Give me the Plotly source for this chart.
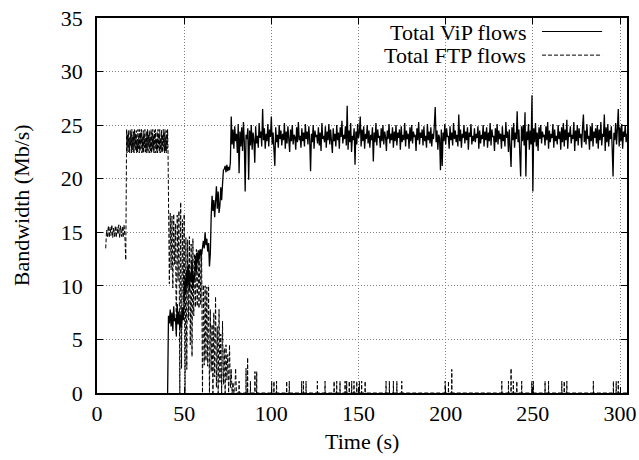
import numpy as np
import plotly.graph_objects as go

# ---------------- data ----------------
STEP = 0.5        # sampling step of the hand-read series (s)
STEP_FINE = 0.25  # finer sampling for the saturated FTP plateau

# Total ViP flows: starts at t = 40.5 s
vip_start = 40.5
vip_ramp_a = [0, 7.2, 6.5, 7.8, 6.2, 7.5, 5.8, 8.1, 6.7, 7.0, 5.5, 8.3, 6.4, 7.6, 5.9, 7.3, 6.1, 8.0, 6.8, 9.5]
vip_ramp_b = [10.8, 9.2, 11.5, 10.1, 12.0, 9.6, 11.2, 10.4, 12.4, 9.8, 11.0, 10.6, 12.8, 11.3, 13.1, 12.2, 13.3, 12.6, 13.4, 12.9, 13.8]
vip_ramp_c = [14.2, 13.5, 15.0, 13.8, 14.4, 13.2, 14.0, 11.8, 13.0]
vip_ramp_d = [16.5, 18.4, 17.0, 18.0, 16.4, 17.6, 19.3, 17.2, 18.8, 16.8, 17.5, 19.2, 18.0, 19.5, 20.8]
vip_ramp_e = [20.9, 21.2, 20.6, 21.3, 20.7, 21.1, 20.8, 21.5]
vip_steady = [
    25.8, 23.2, 24.6, 22.8, 24.9, 23.5, 24.2, 22.4, 25.1, 20.5, 24.4, 23.0, 24.8, 22.6, 25.3, 23.4, 18.8, 24.1, 23.7, 24.7,
    19.9, 24.5, 23.1, 25.0, 22.7, 24.3, 23.6, 21.5, 24.9, 23.3, 24.0, 22.9, 25.2, 23.8, 24.4, 23.0, 26.5, 23.6, 24.7, 22.8,
    24.2, 23.5, 25.1, 23.0, 24.6, 23.9, 25.8, 23.2, 24.3, 22.6, 21.2, 24.8, 23.4, 24.1, 22.9, 25.0, 23.7, 24.5, 23.1, 24.2,
    23.6, 25.2, 22.8, 24.4, 23.3, 24.9, 23.8, 22.5, 24.6, 23.5, 25.0, 23.2, 24.1, 23.9, 22.7, 24.8, 23.4, 25.3, 23.6, 24.0,
    22.9, 24.7, 23.5, 24.3, 23.0, 25.1, 23.7, 24.4, 23.2, 24.9, 23.6, 20.7, 24.2, 23.4, 25.0, 22.8, 24.5, 23.9, 24.1, 23.3,
    24.8, 23.1, 24.3, 22.6, 25.2, 23.7, 24.0, 23.4, 24.9, 22.9, 24.4, 23.6, 25.1, 23.2, 24.6, 23.8, 22.4, 24.7, 23.5, 24.2,
    23.0, 25.0, 23.6, 24.3, 22.8, 24.8, 23.9, 25.4, 23.3, 24.1, 23.7, 24.9, 23.1, 26.8, 22.7, 24.5, 23.4, 25.2, 22.5, 24.0,
    23.6, 24.7, 21.3, 24.4, 23.2, 25.1, 23.8, 24.3, 25.8, 23.0, 24.6, 23.5, 24.9, 22.8, 24.2, 23.7, 25.0, 23.3, 24.5, 22.9,
    24.1, 23.6, 24.8, 21.6, 24.3, 23.4, 25.2, 23.1, 24.6, 23.8, 24.0, 22.9, 24.7, 23.5, 25.0, 23.2, 24.4, 23.9, 22.6, 24.5,
    23.7, 25.1, 23.3, 24.2, 23.6, 24.8, 22.9, 24.4, 23.5, 25.0, 23.1, 24.3, 23.8, 24.6, 22.7, 24.9, 23.4, 24.1, 23.6, 25.2,
    23.0, 24.5, 23.7, 24.2, 22.8, 24.8, 23.5, 25.0, 23.3, 24.4, 23.9, 24.1, 22.6, 24.7, 23.6, 25.3, 23.2, 24.3, 23.8, 24.6,
    23.1, 24.9, 23.5, 24.0, 22.9, 25.1, 23.6, 24.4, 23.3, 24.8, 23.0, 24.2, 23.7, 25.0, 26.7, 23.4, 24.5, 22.7, 24.1, 23.8,
    20.8, 24.6, 21.2, 24.3, 23.5, 25.1, 23.2, 24.7, 23.9, 24.0, 22.8, 24.9, 23.6, 24.3, 23.1, 25.2, 23.7, 24.5, 23.4, 24.1,
    23.0, 26.0, 23.5, 24.6, 22.9, 24.2, 23.8, 25.0, 23.3, 24.4, 23.6, 24.8, 22.7, 24.3, 23.9, 25.1, 23.2, 24.0, 23.5, 24.7,
    23.4, 24.2, 23.8, 24.9, 22.8, 24.5, 23.3, 24.1, 23.7, 25.0, 23.0, 24.4, 23.6, 24.8, 22.9, 24.3, 23.5, 25.2, 23.1, 24.6,
    23.9, 24.0, 22.6, 24.7, 23.4, 25.1, 23.2, 24.5, 23.7, 24.2, 22.8, 24.9, 23.5, 24.1, 23.0, 25.3, 23.8, 24.4, 22.5, 24.6,
    23.3, 21.1, 24.8, 23.6, 25.2, 22.9, 24.3, 23.7, 26.3, 23.4, 24.6, 22.2, 20.2, 24.9, 23.5, 25.0, 23.1, 26.2, 20.2, 24.4,
    23.6, 25.1, 22.7, 24.5, 23.2, 27.8, 18.8, 24.7, 23.4, 25.2, 23.0, 24.3, 22.6, 24.8, 23.7, 25.0, 23.3, 24.4, 23.9, 24.1,
    23.1, 24.9, 23.6, 25.3, 22.8, 24.5, 23.4, 24.2, 23.8, 25.1, 22.9, 24.6, 23.5, 24.0, 23.2, 25.0, 23.7, 24.4, 22.7, 24.8,
    23.4, 25.2, 23.0, 24.6, 23.6, 25.5, 22.8, 24.3, 23.9, 24.9, 23.3, 24.1, 23.7, 25.3, 22.6, 24.5, 23.5, 25.0, 23.1, 24.7,
    23.8, 24.2, 22.9, 24.8, 26.0, 23.4, 24.5, 23.2, 25.1, 23.7, 24.0, 22.7, 24.9, 23.5, 25.2, 23.0, 24.4, 23.8, 24.7, 23.3,
    25.0, 22.8, 24.6, 23.6, 25.3, 23.1, 24.2, 23.9, 26.0, 22.6, 24.8, 23.4, 25.1, 23.0, 24.5, 23.7, 24.9, 22.9, 20.2, 24.3,
    23.6, 25.2, 23.2, 24.7, 26.5, 23.0, 24.8, 23.5, 25.1, 22.8, 24.4, 23.9, 25.0, 23.4, 24.2,
]

# Total FTP flows
ftp_start = 5.0
ftp_phase1 = [13.5, 15.2, 14.6, 15.6, 14.5, 15.5, 14.7, 15.7, 14.5, 15.4, 14.6, 15.6,
              14.5, 15.5, 14.8, 15.7, 14.5, 15.6, 14.6, 15.5, 14.5, 15.7, 14.6, 12.4]
# plateau from t = 17 s to 40.75 s (sampled every 0.25 s)
plateau_start = 17.0
ftp_plateau = [24.6, 22.4, 24.1, 22.9, 24.5, 22.5, 23.8, 22.4, 24.6, 23.1, 24.3, 22.4,
               24.6, 22.7, 23.9, 22.5, 24.4, 22.4, 24.6, 23.0, 24.2, 22.6, 24.5, 22.4,
               23.7, 22.5, 24.6, 22.8, 24.0, 22.4, 24.6, 22.6, 24.3, 23.2, 24.6, 22.4,
               23.9, 22.5, 24.5, 22.4, 24.2, 22.9, 24.6, 22.5, 23.8, 22.4, 24.4, 22.7,
               24.6, 22.4, 24.1, 23.0, 24.5, 22.4, 23.9, 22.6, 24.6, 22.4, 24.3, 22.8,
               24.6, 22.5, 24.0, 22.4, 24.5, 23.1, 24.6, 22.4, 23.7, 22.6, 24.4, 22.4,
               24.6, 22.9, 24.2, 22.5, 24.6, 22.4, 23.8, 22.7, 24.5, 22.4, 24.1, 22.5,
               24.6, 23.0, 24.3, 22.4, 24.6, 22.6, 23.9, 22.4, 24.5, 22.8, 24.6, 22.4]
decline_start = 41.0
ftp_decline = [19.0, 10.2, 16.8, 11.5, 16.5, 9.8, 16.7, 12.0, 15.8, 5.2, 16.6, 10.5, 17.0, 0.0,
               17.8, 2.3, 16.2, 8.5, 16.7, 0.0, 14.5, 2.2, 14.3, 6.8, 14.6, 4.5, 13.9, 3.4,
               14.4, 7.2, 13.0, 8.0, 13.4, 8.1, 13.3, 7.9, 13.4, 8.2, 13.3, 0.0, 10.1, 2.6,
               10.0, 3.0, 9.9, 2.5, 10.0, 0.0, 7.8, 2.0, 6.4, 0.0, 7.5, 1.5, 9.0, 0.5,
               6.2, 0.0, 7.8, 1.0, 5.5, 0.0, 6.7, 0.8, 4.2, 0.0, 4.5, 1.2, 3.6, 0.0,
               4.5, 0.5, 2.2, 0.0, 1.0, 0.0, 0.0, 2.3, 0.0]
# sparse FTP bursts after t = 80 s (time, height); the flow is 0 otherwise
ftp_burst_t = [81.5, 85.5, 86.4, 88.0, 90.6, 91.6, 100.2, 101.5, 103.0, 108.8, 110.3, 117.4,
               118.4, 119.9, 126.4, 130.8, 136.0, 137.5, 139.4, 142.3, 143.2, 144.7, 146.1,
               147.4, 149.0, 150.5, 151.8, 153.8, 165.8, 167.7, 170.0, 172.0, 174.8, 199.7,
               201.6, 203.5, 232.2, 236.0, 237.5, 238.8, 240.8, 243.6, 249.4, 250.3, 257.0,
               259.0, 266.6, 268.0, 269.5, 284.7, 296.2, 297.8, 299.0]
ftp_burst_v = [1.1, 2.3, 3.3, 1.1, 2.0, 2.0, 1.1, 1.1, 1.1, 1.1, 1.1, 1.1,
               1.1, 1.1, 1.1, 1.1, 1.1, 1.1, 1.1, 1.1, 1.1, 1.1, 1.1,
               1.1, 1.1, 1.1, 1.1, 1.1, 1.1, 1.1, 1.1, 1.1, 1.1, 1.1,
               1.1, 2.2, 1.1, 1.1, 2.3, 1.1, 1.1, 1.1, 1.1, 1.1, 1.1,
               1.1, 1.1, 1.1, 1.1, 1.1, 1.1, 1.1, 1.1]
ftp_end = 304.0

x_ticks = [0, 50, 100, 150, 200, 250, 300]
y_ticks = [0, 5, 10, 15, 20, 25, 30, 35]

# ---------------- build series ----------------
vip_v = vip_ramp_a + vip_ramp_b + vip_ramp_c + vip_ramp_d + vip_ramp_e + vip_steady
vip_t = vip_start + STEP * np.arange(len(vip_v))

ftp_t = list(ftp_start + STEP * np.arange(len(ftp_phase1)))
ftp_t += list(plateau_start + STEP_FINE * np.arange(len(ftp_plateau)))
ftp_t += list(decline_start + STEP * np.arange(len(ftp_decline)))
ftp_v = list(ftp_phase1) + list(ftp_plateau) + list(ftp_decline)
for t, h in zip(ftp_burst_t, ftp_burst_v):
    ftp_t += [t - 0.08, t, t + 0.08]
    ftp_v += [0.0, h, 0.0]
ftp_t.append(ftp_end)
ftp_v.append(0.0)

FONT = "Liberation Serif"
FS = 22

fig = go.Figure()
fig.add_trace(go.Scatter(x=ftp_t, y=ftp_v, mode="lines", name="Total FTP flows",
                         line=dict(color="black", width=1, dash="4px,2px"), showlegend=False))
fig.add_trace(go.Scatter(x=vip_t, y=vip_v, mode="lines", name="Total ViP flows",
                         line=dict(color="black", width=1.3), showlegend=False))

axis_common = dict(
    showline=True, linecolor="black", linewidth=1.5, mirror="allticks",
    ticks="inside", ticklen=6, tickcolor="black", tickwidth=1,
    showgrid=True, gridcolor="#808080", griddash="1px,2px", gridwidth=1,
    zeroline=False, automargin=False, ticklabeloverflow="allow",
    tickfont=dict(family=FONT, size=FS, color="black"),
)
fig.update_xaxes(range=[0, 304], tickvals=x_ticks, ticklabelstandoff=0, **axis_common)
fig.update_yaxes(range=[0, 35], tickvals=y_ticks, ticklabelstandoff=8, **axis_common)

# legend drawn gnuplot-style: right-aligned text, sample line at right
legend_rows = [("Total ViP flows", "solid", 0.962), ("Total FTP flows", "4px,2px", 0.899)]
for label, dash, yy in legend_rows:
    fig.add_annotation(x=0.813, y=yy, xref="paper", yref="paper", text=label,
                       showarrow=False, xanchor="right", yanchor="middle",
                       font=dict(family=FONT, size=FS, color="black"))
    fig.add_shape(type="line", xref="paper", yref="paper", x0=0.8396, x1=0.953,
                  y0=yy + 0.002, y1=yy + 0.002, line=dict(color="black", width=1, dash=dash))

fig.add_annotation(x=-0.142, y=0.5, xref="paper", yref="paper", text="Bandwidth (Mb/s)",
                   textangle=-90, showarrow=False, xanchor="center", yanchor="middle",
                   font=dict(family=FONT, size=FS, color="black"))
fig.add_annotation(x=0.5, y=-0.128, xref="paper", yref="paper", text="Time (s)",
                   showarrow=False, xanchor="center", yanchor="middle",
                   font=dict(family=FONT, size=FS, color="black"))

fig.update_layout(
    width=639, height=460,
    margin=dict(l=97, r=12, t=18, b=67),
    paper_bgcolor="white", plot_bgcolor="white",
    showlegend=False,
)
# remove the default 8 px page margin so the figure fills the window exactly
fig.write_html("out.html", config={"displayModeBar": False},
               post_script="document.body.style.margin='0';document.body.style.overflow='hidden';")
